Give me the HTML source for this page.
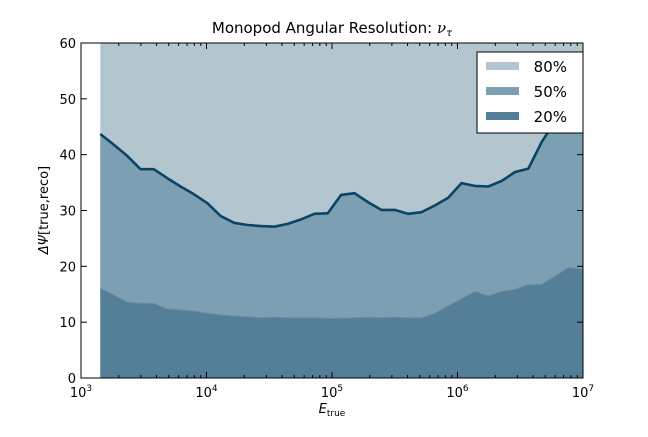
<!DOCTYPE html>
<html><head><meta charset="utf-8"><style>
body{margin:0;background:#fff;}
svg text{font-family:"DejaVu Sans","Liberation Sans",sans-serif;fill:#000;}
</style></head><body>
<svg width="648" height="432" id="chart">
<text x="332" y="33" text-anchor="middle" font-size="15">Monopod Angular Resolution: <tspan font-style="italic" font-family="DejaVu Serif">ν</tspan><tspan font-style="italic" font-size="10" dy="3">τ</tspan></text>
<g id="plot"></g>
<text x="332" y="413" text-anchor="middle" font-size="13" font-style="italic">E<tspan font-style="normal" font-size="9" dy="3">true</tspan></text>
<text transform="translate(48,210) rotate(-90)" text-anchor="middle" font-size="13"><tspan font-style="italic">ΔΨ</tspan>[true,reco]</text>
</svg>
<script>
const logE=[];
const nBins=37;
const binStart=3.154, binStep=0.1066;
for(let i=0;i<nBins;i++)logE.push(binStart+i*binStep);
const p80=[60,60,60,60,60,60,60,60,60,60,60,60,60,60,60,60,60,60,60,60,60,60,60,60,60,60,60,60,60,60,60,60,60,60,60,60,60];
const p50=[43.7,41.8,39.8,37.4,37.4,35.8,34.3,32.9,31.3,29.0,27.8,27.4,27.2,27.1,27.6,28.4,29.4,29.5,32.8,33.1,31.5,30.1,30.1,29.4,29.7,30.9,32.3,34.9,34.4,34.3,35.3,36.9,37.5,42.3,46.0,49.7,50.1];
const p20=[16.1,14.9,13.6,13.4,13.4,12.4,12.2,12.0,11.6,11.3,11.1,11.0,10.8,10.9,10.8,10.8,10.8,10.7,10.7,10.8,10.9,10.8,10.9,10.8,10.8,11.6,12.9,14.2,15.5,14.7,15.5,15.9,16.7,16.8,18.3,19.8,19.5];
const yTicks=[0,10,20,30,40,50,60];
const xDecades=[3,4,5,6,7];

const L=81,R=583,T=43,B=378;
const X=l=>L+(l-3)/4*(R-L);
const Y=v=>B-v/60*(B-T);
const NS='http://www.w3.org/2000/svg';
const g=document.getElementById('plot');
function mk(t,a){const e=document.createElementNS(NS,t);for(const k in a)e.setAttribute(k,a[k]);g.appendChild(e);return e;}
function area(arr,color,name){
  let d='M'+X(logE[0])+','+Y(0);
  arr.forEach((v,i)=>d+=' L'+X(logE[i]).toFixed(1)+','+Y(v).toFixed(1));
  d+=' L'+R+','+Y(arr[arr.length-1]).toFixed(1)+' L'+R+','+Y(0)+' Z';
  const e=mk('path',{d:d,fill:color});
  
  
  return e;
}
area(p80,'#b3c6cf','area-80pct');
area(p50,'#7d9fb2','area-50pct');
area(p20,'#557f98','area-20pct');
let d20='',d50='';
p20.forEach((v,i)=>d20+=(i?' L':'M')+X(logE[i]).toFixed(1)+','+Y(v).toFixed(1));
d20+=' L'+R+','+Y(p20[p20.length-1]).toFixed(1);
const l20=mk('path',{d:d20,fill:'none',stroke:'#6a8fa5','stroke-width':1});


p50.forEach((v,i)=>d50+=(i?' L':'M')+X(logE[i]).toFixed(1)+','+Y(v).toFixed(1));
d50+=' L'+R+','+Y(p50[p50.length-1]).toFixed(1);
const l50=mk('path',{d:d50,fill:'none',stroke:'#0b4563','stroke-width':2.6,'stroke-linejoin':'round'});


// axes frame
const fr=mk('rect',{x:L,y:T,width:R-L,height:B-T,fill:'none',stroke:'#000','stroke-width':1});


// y ticks
yTicks.forEach(v=>{
  mk('line',{x1:L,x2:L+6,y1:Y(v),y2:Y(v),stroke:'#000'});
  mk('line',{x1:R,x2:R-6,y1:Y(v),y2:Y(v),stroke:'#000'});
  const t=mk('text',{x:L-5,y:Y(v)+5,'text-anchor':'end','font-size':13});
  t.textContent=v;
  
  
});
// x ticks
xDecades.forEach((dcd,j)=>{
  const x=X(dcd);
  mk('line',{x1:x,x2:x,y1:B,y2:B-6,stroke:'#000'});
  mk('line',{x1:x,x2:x,y1:T,y2:T+6,stroke:'#000'});
  const t=mk('text',{x:x,y:B+19,'text-anchor':'middle','font-size':13});
  t.innerHTML='10<tspan font-size="9" dy="-6">'+dcd+'</tspan>';
  
  
  if(j<xDecades.length-1){
    for(let m=2;m<10;m++){
      const xm=X(dcd+Math.log10(m));
      mk('line',{x1:xm,x2:xm,y1:B,y2:B-3,stroke:'#000'});
      mk('line',{x1:xm,x2:xm,y1:T,y2:T+3,stroke:'#000'});
    }
  }
});
// legend
const lg=mk('rect',{x:477,y:52,width:106,height:81,fill:'#fff',stroke:'#000','stroke-width':1});


[['80%','#b3c6cf',66],['50%','#7d9fb2',91],['20%','#557f98',116]].forEach(([lab,c,y])=>{
  const r=mk('rect',{x:486,y:y-4,width:33,height:8,fill:c});
  
  
  const t=mk('text',{x:567,y:y+6,'text-anchor':'end','font-size':15});
  t.textContent=lab;
  
  
});
</script>
</body></html>
